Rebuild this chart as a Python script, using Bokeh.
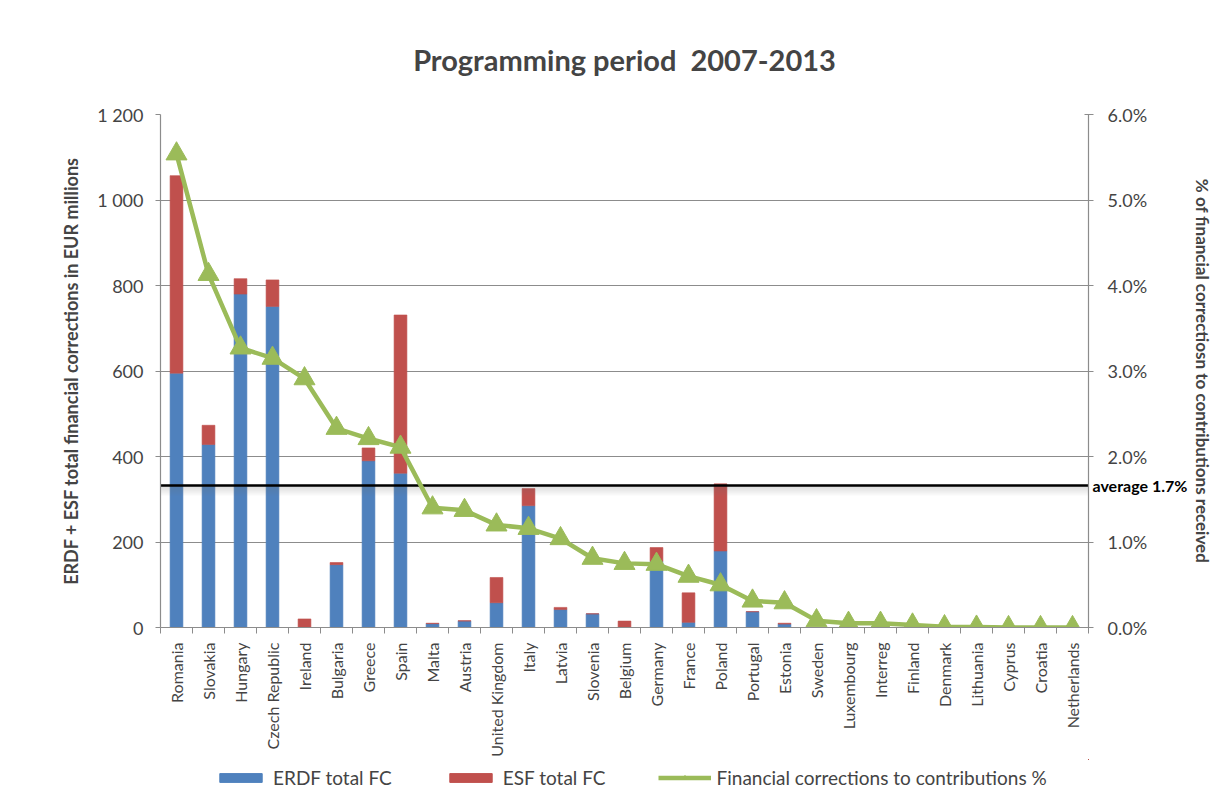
from math import pi
from bokeh.plotting import figure
from bokeh.layouts import column
from bokeh.models import (ColumnDataSource, Range1d, LinearAxis, FixedTicker,
                          PrintfTickFormatter, Legend, LegendItem)
from bokeh.embed import file_html
from bokeh.resources import INLINE

categories = ["Romania", "Slovakia", "Hungary", "Czech Republic", "Ireland", "Bulgaria",
              "Greece", "Spain", "Malta", "Austria", "United Kingdom", "Italy", "Latvia",
              "Slovenia", "Belgium", "Germany", "France", "Poland", "Portugal", "Estonia",
              "Sweden", "Luxembourg", "Interreg", "Finland", "Denmark", "Lithuania",
              "Cyprus", "Croatia", "Netherlands"]
erdf = [595, 428, 780, 751, 0, 147, 390, 361, 9, 15, 58, 285, 42, 32, 0, 155, 12, 179,
        37, 8, 0, 0, 0, 0, 0, 0, 0, 0, 0]
esf = [462, 45, 36, 62, 20, 5, 30, 370, 1, 1, 59, 40, 5, 0, 15, 32, 69, 157,
       0, 2, 0, 0, 0, 0, 0, 0, 0, 0, 0]
pct = [5.54, 4.13, 3.27, 3.15, 2.91, 2.33, 2.21, 2.11, 1.40, 1.37, 1.20, 1.16, 1.04,
       0.81, 0.75, 0.74, 0.60, 0.50, 0.31, 0.29, 0.08, 0.05, 0.05, 0.03, 0.01, 0.005,
       0.0, 0.0, 0.0]
average = 1.66
average_text = "average 1.7%"
left_ticks = [0, 200, 400, 600, 800, 1000, 1200]
left_tick_labels = ["0", "200", "400", "600", "800", "1 000", "1 200"]
right_ticks = [0, 1, 2, 3, 4, 5, 6]
legend_labels = ["ERDF total FC", "ESF total FC", "Financial corrections to contributions %"]

BLUE = "#4F81BD"
RED = "#C0504D"
GREEN = "#9BBB59"
GRAY = "#8c8c8c"
FONT = "Lato"

xs = list(range(len(categories)))
src = ColumnDataSource(dict(x=xs, erdf=erdf, esf=esf, pct=pct))

p = figure(width=1216, height=759, x_range=Range1d(-0.5, len(categories) - 0.5),
           y_range=Range1d(0, 1200), output_backend="svg", toolbar_location=None,
           min_border_left=160, min_border_right=128, min_border_top=114,
           min_border_bottom=132)
p.extra_y_ranges = {"pct": Range1d(0, 6)}
p.outline_line_color = None

p.title.text = "Programming period\u00a0 2007-2013"
p.title.align = "center"
p.title.text_font = FONT
p.title.text_font_size = "29px"
p.title.text_font_style = "bold"
p.title.standoff = 76

bars = p.vbar_stack(["erdf", "esf"], x="x", width=0.4, color=[BLUE, RED],
                    line_color=[BLUE, RED], line_alpha=0.6, source=src)

# soft shadow under the average line (stacked translucent strips)
px = 6.0 / 513.0
for k in range(1, 6):
    p.hstrip(y0=[average - 2 * k * px], y1=[average], y_range_name="pct",
             fill_color="#6f6f6f", fill_alpha=0.05, line_color=None)
p.hspan(y=[average], y_range_name="pct", line_color="black", line_width=2.5)

ln = p.line("x", "pct", source=src, y_range_name="pct", line_color=GREEN, line_width=4.5)
mk = p.scatter("x", "pct", source=src, y_range_name="pct", marker="triangle", size=21,
               fill_color=GREEN, line_color=GREEN)

# grid
p.xgrid.grid_line_color = None
p.ygrid.grid_line_color = GRAY
p.ygrid.grid_line_width = 1.2
p.ygrid.ticker = FixedTicker(ticks=left_ticks)

# x axis
xa = p.xaxis[0]
xa.ticker = FixedTicker(ticks=xs, minor_ticks=[i - 0.5 for i in range(len(categories) + 1)])
xa.major_label_overrides = {i: c for i, c in zip(xs, categories)}
xa.major_label_orientation = pi / 2
xa.major_tick_line_color = None
xa.minor_tick_in = 0
xa.minor_tick_out = 6
xa.minor_tick_line_color = GRAY
xa.axis_line_color = GRAY
xa.axis_line_width = 1.2
xa.major_label_text_font = FONT
xa.major_label_text_font_size = "16px"
xa.major_label_standoff = 9

# left axis
ya = p.yaxis[0]
ya.ticker = FixedTicker(ticks=left_ticks)
ya.major_label_overrides = {t: s for t, s in zip(left_ticks, left_tick_labels)}
ya.minor_tick_line_color = None
ya.major_tick_in = 0
ya.major_tick_out = 5
ya.major_tick_line_color = GRAY
ya.axis_line_color = GRAY
ya.axis_line_width = 1.2
ya.major_label_text_font = FONT
ya.major_label_text_font_size = "18px"
ya.major_label_standoff = 12
ya.axis_label = "ERDF + ESF total financial corrections in EUR millions"
ya.axis_label_text_font = FONT
ya.axis_label_text_font_size = "18px"
ya.axis_label_text_font_style = "bold"
ya.axis_label_standoff = 12

# right axis
ra = LinearAxis(y_range_name="pct", ticker=FixedTicker(ticks=right_ticks),
                formatter=PrintfTickFormatter(format="%.1f%%"))
ra.minor_tick_line_color = None
ra.major_tick_in = 4
ra.major_tick_out = 5
ra.major_tick_line_color = GRAY
ra.axis_line_color = GRAY
ra.axis_line_width = 1.2
ra.major_label_text_font = FONT
ra.major_label_text_font_size = "18px"
ra.major_label_standoff = 14
ra.axis_label = "% of financial correctiosn to contributions received"
ra.axis_label_text_font = FONT
ra.axis_label_text_font_size = "17px"
ra.axis_label_text_font_style = "bold"
ra.axis_label_standoff = 42
p.add_layout(ra, "right")

# "average 1.7%": label-only axis stacked after the right axis, pulled back
# next to the frame edge with a negative standoff
avg_axis = LinearAxis(y_range_name="pct", ticker=FixedTicker(ticks=[average]))
avg_axis.major_label_overrides = {average: average_text}
avg_axis.axis_line_color = None
avg_axis.major_tick_line_color = None
avg_axis.major_tick_in = 0
avg_axis.major_tick_out = 0
avg_axis.minor_tick_line_color = None
avg_axis.minor_tick_in = 0
avg_axis.minor_tick_out = 0
avg_axis.major_label_standoff = -124
avg_axis.major_label_text_font = FONT
avg_axis.major_label_text_font_size = "16px"
avg_axis.major_label_text_font_style = "bold"
avg_axis.major_label_text_color = "black"
p.add_layout(avg_axis, "right")

# legend strip under the chart (its frame is aligned with the chart's frame)
lg = figure(width=1216, height=38, x_range=Range1d(-3, -2), y_range=Range1d(-3, -2),
            output_backend="svg", toolbar_location=None, x_axis_location=None,
            y_axis_location=None, min_border=0)
lg.outline_line_color = None
lg.xgrid.visible = False
lg.ygrid.visible = False
r_erdf = lg.vbar(x="x", top="erdf", width=0.4, color=BLUE, source=src)
r_esf = lg.vbar(x="x", top="esf", width=0.4, color=RED, source=src)
r_line = lg.line(x="x", y="pct", line_color=GREEN, line_width=4.5, source=src)
r_mark = lg.scatter(x="x", y="pct", marker="triangle", size=12, fill_color=GREEN,
                    line_color=GREEN, source=src)
legend = Legend(items=[LegendItem(label=legend_labels[0], renderers=[r_erdf]),
                       LegendItem(label=legend_labels[1], renderers=[r_esf]),
                       LegendItem(label=legend_labels[2], renderers=[r_line, r_mark])],
                orientation="horizontal", location=(54, 8),
                border_line_color=None, background_fill_alpha=0,
                glyph_width=53, glyph_height=11, spacing=52, label_standoff=6,
                label_text_font=FONT, label_text_font_size="19px",
                padding=0, margin=0)
lg.add_layout(legend, "center")

open("out.html", "w").write(file_html(column(p, lg, spacing=0), INLINE))
